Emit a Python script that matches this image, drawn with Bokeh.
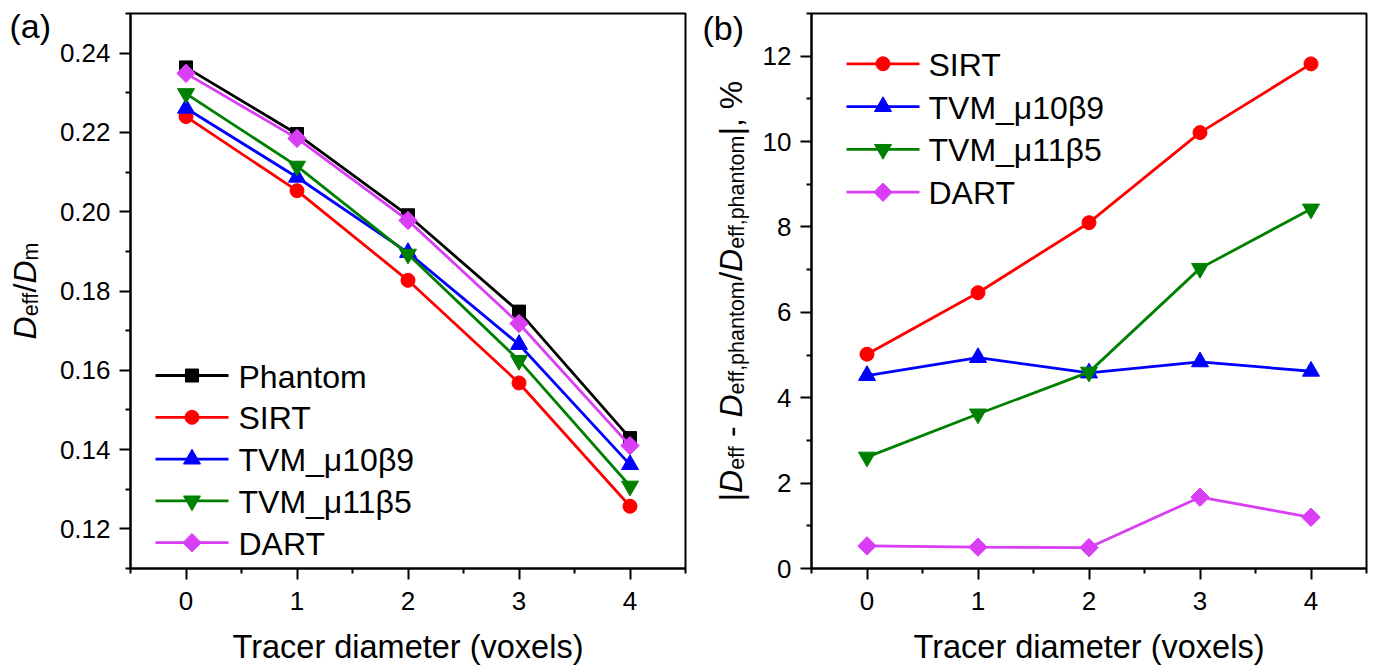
import math
from bokeh.plotting import figure
from bokeh.models import Range1d, FixedTicker, NumeralTickFormatter, Label
from bokeh.core.properties import value
from bokeh.layouts import row
from bokeh.embed import file_html
from bokeh.resources import INLINE

# ---------------- data ----------------
diameter = [0, 1, 2, 3, 4]

# (a) normalised effective diffusivity D_eff / D_m
deff_phantom = [0.2364, 0.2196, 0.1991, 0.1748, 0.1429]
deff_sirt = [0.2240, 0.2053, 0.1827, 0.1568, 0.1257]
deff_tvm_10_9 = [0.2261, 0.2087, 0.1897, 0.1665, 0.1362]
deff_tvm_11_5 = [0.2298, 0.2115, 0.1893, 0.1625, 0.1308]
deff_dart = [0.2349, 0.2185, 0.1978, 0.1718, 0.1410]

# (b) relative deviation from the phantom, %
err_sirt = [5.02, 6.46, 8.10, 10.21, 11.82]
err_tvm_10_9 = [4.52, 4.94, 4.58, 4.84, 4.62]
err_tvm_11_5 = [2.61, 3.62, 4.60, 7.03, 8.42]
err_dart = [0.53, 0.50, 0.49, 1.67, 1.20]

x_ticks = [0, 1, 2, 3, 4]
x_minor = [-0.5, 0.5, 1.5, 2.5, 3.5, 4.5]
a_ticks = [0.12, 0.14, 0.16, 0.18, 0.20, 0.22, 0.24]
a_minor = [0.11, 0.13, 0.15, 0.17, 0.19, 0.21, 0.23, 0.25]
b_ticks = [0, 2, 4, 6, 8, 10, 12]
b_minor = [1, 3, 5, 7, 9, 11, 13]
x_title = "Tracer diameter (voxels)"

# ---------------- style ----------------
FONT = "Liberation Sans"
C_PHANTOM = "#000000"
C_SIRT = "#FF0000"
C_TVM10 = "#0000FF"
C_TVM11 = "#008000"
C_DART = "#D93EF4"
LW = 2.8
H = 668
FRAME = 555          # square plotting frames
TOP = 13
BOTTOM = H - TOP - FRAME
BASE_SHIFT = 0.38    # em; the text glyph sits this much below the requested baseline

# Arial / Liberation Sans advance widths (em) for the axis-title characters
ADV = {" ": 0.278, "%": 0.889, ",": 0.278, "-": 0.333, "/": 0.278, "|": 0.26,
       "D": 0.722, "e": 0.556, "f": 0.278, "m": 0.833, "p": 0.556, "h": 0.556,
       "a": 0.556, "n": 0.556, "t": 0.278, "o": 0.556}

MARKERS = {
    "Phantom": dict(marker="square", size=13, angle=0.0),
    "SIRT": dict(marker="circle", size=14, angle=0.0),
    "TVM10": dict(marker="triangle", size=17, angle=0.0),
    "TVM11": dict(marker="inverted_triangle", size=17, angle=0.0),
    "DART": dict(marker="square", size=13, angle=math.pi / 4),
}


def text_len(s, size):
    return sum(ADV[c] for c in s) * size


def make_fig(width, left, right, yr):
    p = figure(width=width, height=H, output_backend="svg", toolbar_location=None,
               x_range=Range1d(-0.5, 4.5), y_range=Range1d(*yr),
               min_border_left=left, min_border_right=right,
               min_border_top=TOP, min_border_bottom=BOTTOM)
    p.xgrid.visible = False
    p.ygrid.visible = False
    p.outline_line_color = "black"
    p.outline_line_width = 2
    p.outline_line_alpha = 1
    p.background_fill_color = "white"
    p.border_fill_color = "white"
    for ax in (p.xaxis, p.yaxis):
        ax.axis_line_width = 2
        ax.major_tick_line_width = 2
        ax.minor_tick_line_width = 2
        ax.major_tick_out = 11
        ax.major_tick_in = 0
        ax.minor_tick_out = 5
        ax.minor_tick_in = 0
        ax.major_label_text_font = FONT
        ax.major_label_text_font_size = "26px"
        ax.major_label_text_color = "black"
    p.xaxis.ticker = FixedTicker(ticks=x_ticks, minor_ticks=x_minor)
    p.xaxis.major_label_standoff = 12
    p.yaxis.major_label_standoff = 9
    return p


def px_to_data(p, left, px, py):
    xr, yr = p.x_range, p.y_range
    x = xr.start + (px - left) / FRAME * (xr.end - xr.start)
    y = yr.end - (py - TOP) / FRAME * (yr.end - yr.start)
    return x, y


def free_text(p, left, px, py, text, size, angle=0.0, italic=False, align="left"):
    # text in the margins around the frame, drawn above the frame clip;
    # (px, py) is the wanted baseline start in canvas pixels
    px -= BASE_SHIFT * size * math.sin(angle)
    py -= BASE_SHIFT * size * math.cos(angle)
    x, y = px_to_data(p, left, px, py)
    p.text(x=[x], y=[y], text=[text], angle=angle,
           text_font=value(FONT), text_font_size=value(f"{size}px"),
           text_font_style=value("italic" if italic else "normal"),
           text_color="black", text_align=align, text_baseline="alphabetic",
           level="overlay")


def vertical_title(p, left, parts, base_px, center_py, main=32, sub=21.5):
    """Rotated title built from runs: (text, 'main'|'sub', italic, advance_before)."""
    sizes = [main if kind == "main" else sub for _, kind, _, _ in parts]
    total = sum(text_len(t, s) + pre * s for (t, _, _, pre), s in zip(parts, sizes))
    py = center_py + total / 2
    for (t, kind, italic, pre), s in zip(parts, sizes):
        py -= pre * s
        bx = base_px + (2 if kind == "sub" else 0)
        free_text(p, left, bx, py, t, s, angle=math.pi / 2, italic=italic)
        py -= text_len(t, s)


def series(p, ys, color, key):
    p.line(diameter, ys, line_color=color, line_width=LW)
    p.scatter(diameter, ys, fill_color=color, line_color=color, line_width=1,
              **MARKERS[key])


def legend(p, left, entries, line_px, text_px, first_py, step):
    """Line-and-symbol key drawn inside the frame."""
    for i, (name, color, key) in enumerate(entries):
        py = first_py + i * step
        x0, y0 = px_to_data(p, left, line_px[0], py)
        x1, _ = px_to_data(p, left, line_px[1], py)
        p.line([x0, x1], [y0, y0], line_color=color, line_width=LW)
        p.scatter([(x0 + x1) / 2], [y0], fill_color=color, line_color=color,
                  line_width=1, **MARKERS[key])
        tx, ty = px_to_data(p, left, text_px, py + 1)
        p.add_layout(Label(x=tx, y=ty, text=name, text_font=FONT,
                           text_font_size="32px", text_color="black",
                           text_align="left", text_baseline="middle"))


SP = ADV[" "]

# ---------------- (a) ----------------
LEFT_A = 130
pa = make_fig(697, LEFT_A, 697 - LEFT_A - FRAME, (0.11, 0.25))
pa.yaxis.ticker = FixedTicker(ticks=a_ticks, minor_ticks=a_minor)
pa.yaxis.formatter = NumeralTickFormatter(format="0.00")

entries_a = [
    ("Phantom", C_PHANTOM, "Phantom", deff_phantom),
    ("SIRT", C_SIRT, "SIRT", deff_sirt),
    ("TVM_\u03bc10\u03b29", C_TVM10, "TVM10", deff_tvm_10_9),
    ("TVM_\u03bc11\u03b25", C_TVM11, "TVM11", deff_tvm_11_5),
    ("DART", C_DART, "DART", deff_dart),
]
for name, color, key, ys in entries_a:
    series(pa, ys, color, key)
legend(pa, LEFT_A, [e[:3] for e in entries_a], (155, 228), 238, 375, 41.8)

vertical_title(pa, LEFT_A, [("D", "main", True, 0), ("eff", "sub", False, 0),
                            ("/", "main", False, 0), ("D", "main", True, 0),
                            ("m", "sub", False, 0)], 37, TOP + FRAME / 2)
free_text(pa, LEFT_A, 9, 38, "(a)", 34)
free_text(pa, LEFT_A, LEFT_A + FRAME / 2, 659, x_title, 32.5, align="center")

# ---------------- (b) ----------------
LEFT_B = 114
pb = make_fig(678, LEFT_B, 678 - LEFT_B - FRAME, (0, 13))
pb.yaxis.ticker = FixedTicker(ticks=b_ticks, minor_ticks=b_minor)

entries_b = [
    ("SIRT", C_SIRT, "SIRT", err_sirt),
    ("TVM_\u03bc10\u03b29", C_TVM10, "TVM10", err_tvm_10_9),
    ("TVM_\u03bc11\u03b25", C_TVM11, "TVM11", err_tvm_11_5),
    ("DART", C_DART, "DART", err_dart),
]
for name, color, key, ys in entries_b:
    series(pb, ys, color, key)
legend(pb, LEFT_B, [e[:3] for e in entries_b], (149, 222), 231, 63.3, 42.8)

vertical_title(pb, LEFT_B, [("|", "main", False, 0), ("D", "main", True, 0),
                            ("eff", "sub", False, 0), ("-", "main", False, SP),
                            ("D", "main", True, SP), ("eff,phantom", "sub", False, 0),
                            ("/", "main", False, 0), ("D", "main", True, 0),
                            ("eff,phantom", "sub", False, 0), ("|, %", "main", False, 0)],
               46, TOP + FRAME / 2)
free_text(pb, LEFT_B, 5, 40, "(b)", 34)
free_text(pb, LEFT_B, LEFT_B + FRAME / 2, 659, x_title, 32.5, align="center")

layout = row(pa, pb, spacing=0)
open("out.html", "w").write(file_html(layout, INLINE))
